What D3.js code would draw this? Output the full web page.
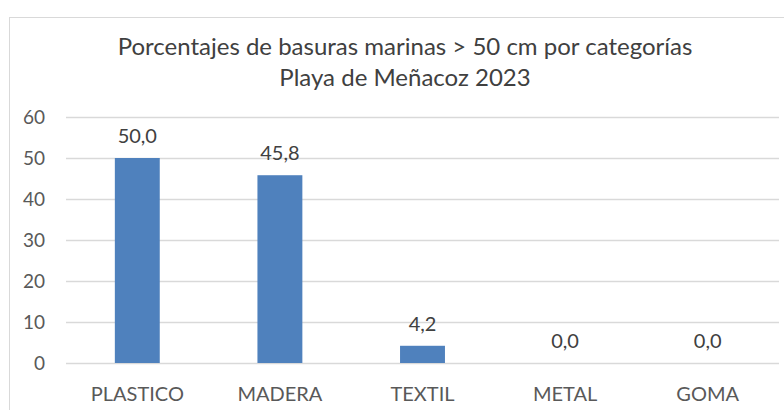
<!DOCTYPE html>
<html>
<head>
<meta charset="utf-8">
<script src="https://cdn.jsdelivr.net/npm/d3@7"></script>
<style>
  html, body { margin: 0; padding: 0; background: #fff; }
  svg text { font-family: Lato, "Open Sans", sans-serif; }
</style>
</head>
<body>
<svg id="chart" width="784" height="410"></svg>
<script>
// chart data
var categories = ["PLASTICO", "MADERA", "TEXTIL", "METAL", "GOMA"];
var values = [50.0, 45.8, 4.2, 0.0, 0.0];
var yTicks = [0, 10, 20, 30, 40, 50, 60];
var titleLines = ["Porcentajes de basuras marinas > 50 cm por categorías", "Playa de Meñacoz 2023"];

var svg = d3.select("#chart");

// frame around the chart area
svg.append("rect")
    .attr("x", 9.5).attr("y", 17.5)
    .attr("width", 800).attr("height", 420)
    .attr("fill", "none")
    .attr("stroke", "#d9d9d9");

// plot area
var plotLeft = 66, plotRight = 779, plotTop = 117, plotBottom = 363;

var x = d3.scaleBand().domain(categories).range([plotLeft, plotRight]).paddingInner(0.685).paddingOuter(0.3425);
var y = d3.scaleLinear().domain([0, 60]).range([plotBottom, plotTop]);

// gridlines
svg.append("g")
  .selectAll("line")
  .data(yTicks)
  .join("line")
    .attr("x1", plotLeft).attr("x2", plotRight)
    .attr("y1", function(d) { return Math.round(y(d)) + 0.5; })
    .attr("y2", function(d) { return Math.round(y(d)) + 0.5; })
    .attr("stroke", "#d9d9d9")
    .attr("stroke-width", 1.5);

// y axis labels
var yAxis = d3.axisLeft(y).tickValues(yTicks).tickSize(0).tickPadding(0);
var gy = svg.append("g")
    .attr("transform", "translate(45,0)")
    .call(yAxis);
gy.select(".domain").remove();
gy.selectAll("text")
    .attr("fill", "#595959")
    .style("font-family", "Lato, sans-serif")
    .style("font-size", "19px");

// bars
svg.append("g")
  .selectAll("rect")
  .data(values)
  .join("rect")
    .attr("x", function(d, i) { return x(categories[i]); })
    .attr("width", x.bandwidth())
    .attr("y", function(d) { return y(d); })
    .attr("height", function(d) { return y(0) - y(d); })
    .attr("fill", "#4f81bd");

// value labels
svg.append("g")
  .selectAll("text")
  .data(values)
  .join("text")
    .attr("x", function(d, i) { return x(categories[i]) + x.bandwidth() / 2; })
    .attr("y", function(d) { return y(d) - 15; })
    .attr("text-anchor", "middle")
    .attr("fill", "#404040")
    .style("font-size", "20px")
    .text(function(d) { return d.toFixed(1).replace(".", ","); });

// x axis labels
var xAxis = d3.axisBottom(x).tickSize(0).tickPadding(0);
var gx = svg.append("g")
    .attr("transform", "translate(0,387)")
    .call(xAxis);
gx.select(".domain").remove();
gx.selectAll("text")
    .attr("fill", "#595959")
    .attr("dy", "0.71em")
    .style("font-family", "Lato, sans-serif")
    .style("font-size", "20px");

// title
svg.append("g")
  .selectAll("text")
  .data(titleLines)
  .join("text")
    .attr("x", 405)
    .attr("y", function(d, i) { return 55 + i * 31; })
    .attr("text-anchor", "middle")
    .attr("fill", "#404040")
    .style("font-size", "24px")
    .text(function(d) { return d; });
</script>
</body>
</html>
